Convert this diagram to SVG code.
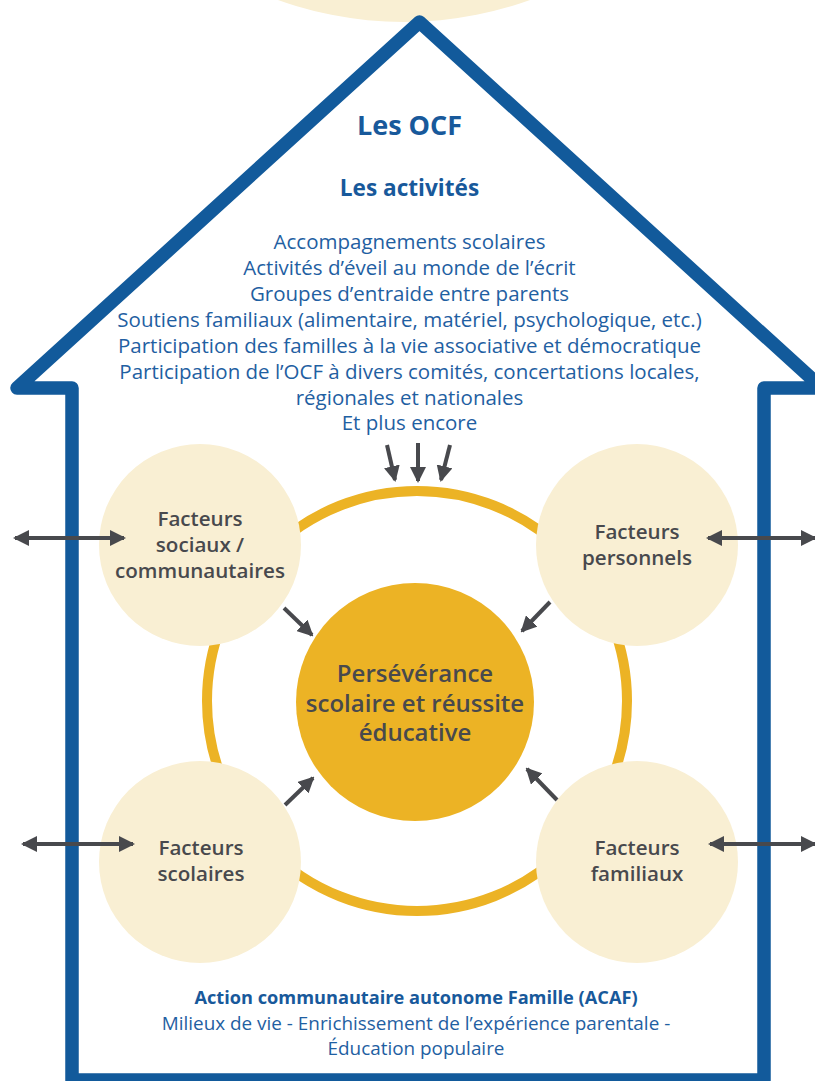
<svg xmlns="http://www.w3.org/2000/svg" width="815" height="1081" viewBox="0 0 815 1081">
  <defs>
    <style>
      .beige { fill: #f9efd3; }
      .wall { fill: none; stroke: #125a9b; stroke-width: 13.5; stroke-linejoin: round; stroke-linecap: round; }
      .ring { fill: none; stroke: #ecb325; stroke-width: 10; }
      .core { fill: #ecb325; }
      .title { font-family: "Open Sans", "Noto Sans", sans-serif; font-weight: 700; fill: #18599b; text-anchor: middle; }
      .blue { font-family: "Open Sans", "Noto Sans", sans-serif; font-weight: 400; fill: #1f60a2; text-anchor: middle; }
      .act { font-size: 20.5px; }
      .factor { font-family: "Open Sans", "Noto Sans", sans-serif; font-weight: 600; font-size: 20.6px; fill: #48494d; text-anchor: middle; }
      .core-label { font-family: "Open Sans", "Noto Sans", sans-serif; font-weight: 600; font-size: 24px; fill: #48494d; text-anchor: middle; }
      .arrow { fill: none; stroke: #48494d; stroke-width: 4; }
    </style>
    <marker id="head" viewBox="0 0 16 16" refX="14" refY="8" markerWidth="16" markerHeight="16" markerUnits="userSpaceOnUse" orient="auto-start-reverse">
      <path d="M0 0 L16 8 L0 16 Z" fill="#48494d"/>
    </marker>
  </defs>

  <!-- roof cap -->
  <circle id="roof-cap" class="beige" cx="404" cy="-350" r="372"/>

  <!-- house outline -->
  <g id="house">
    <path class="wall" d="M419.5 22 L17 388 L72 388 L72 1080 L764 1080 L764 388 L822 388 Z"/>
  </g>

  <!-- header texts -->
  <g id="ocf-title">
    <text class="title" x="409.5" y="135" font-size="27">Les OCF</text>
  </g>
  <g id="activities">
    <text class="title" x="409.5" y="196" font-size="22.6">Les activités</text>
    <text class="blue act" x="409.5" y="249">Accompagnements scolaires</text>
    <text class="blue act" x="409.5" y="275">Activités d’éveil au monde de l’écrit</text>
    <text class="blue act" x="409.5" y="301">Groupes d’entraide entre parents</text>
    <text class="blue act" x="409.5" y="327">Soutiens familiaux (alimentaire, matériel, psychologique, etc.)</text>
    <text class="blue act" x="409.5" y="353">Participation des familles à la vie associative et démocratique</text>
    <text class="blue act" x="409.5" y="378.5">Participation de l’OCF à divers comités, concertations locales,</text>
    <text class="blue act" x="409.5" y="404.5">régionales et nationales</text>
    <text class="blue act" x="409.5" y="430">Et plus encore</text>
  </g>

  <!-- ring around the core -->
  <g id="ring">
    <circle class="ring" cx="417" cy="701" r="210"/>
  </g>

  <!-- factor nodes -->
  <g id="factor-social">
    <circle class="beige" cx="200" cy="545" r="101"/>
    <text class="factor" x="200" y="526">Facteurs</text>
    <text class="factor" x="200" y="552">sociaux /</text>
    <text class="factor" x="200" y="578">communautaires</text>
  </g>
  <g id="factor-personal">
    <circle class="beige" cx="637" cy="545" r="101"/>
    <text class="factor" x="637" y="539">Facteurs</text>
    <text class="factor" x="637" y="565">personnels</text>
  </g>
  <g id="factor-school">
    <circle class="beige" cx="200" cy="862" r="101"/>
    <text class="factor" x="201" y="855">Facteurs</text>
    <text class="factor" x="201" y="881">scolaires</text>
  </g>
  <g id="factor-family">
    <circle class="beige" cx="637" cy="862" r="101"/>
    <text class="factor" x="637" y="855">Facteurs</text>
    <text class="factor" x="637" y="881">familiaux</text>
  </g>

  <!-- core node -->
  <g id="core">
    <circle class="core" cx="415" cy="702" r="119"/>
    <text class="core-label" x="415" y="682">Persévérance</text>
    <text class="core-label" x="415" y="712">scolaire et réussite</text>
    <text class="core-label" x="415" y="741">éducative</text>
  </g>

  <!-- connectors -->
  <g id="connectors">
    <line class="arrow" x1="387" y1="445" x2="395" y2="480" marker-end="url(#head)"/>
    <line class="arrow" x1="418" y1="443" x2="418" y2="481" marker-end="url(#head)"/>
    <line class="arrow" x1="450" y1="445" x2="441" y2="480" marker-end="url(#head)"/>

    <line class="arrow" x1="284" y1="608" x2="312" y2="635" marker-end="url(#head)"/>
    <line class="arrow" x1="550" y1="602" x2="522" y2="631" marker-end="url(#head)"/>
    <line class="arrow" x1="285" y1="805" x2="313" y2="778" marker-end="url(#head)"/>
    <line class="arrow" x1="557" y1="800" x2="527" y2="769" marker-end="url(#head)"/>

    <line class="arrow" x1="15" y1="538" x2="124" y2="538" marker-start="url(#head)" marker-end="url(#head)"/>
    <line class="arrow" x1="708" y1="538" x2="815" y2="538" marker-start="url(#head)" marker-end="url(#head)"/>
    <line class="arrow" x1="23" y1="844" x2="133" y2="844" marker-start="url(#head)" marker-end="url(#head)"/>
    <line class="arrow" x1="710" y1="844" x2="815" y2="844" marker-start="url(#head)" marker-end="url(#head)"/>
  </g>

  <!-- footer -->
  <g id="footer">
    <text class="title" x="416" y="1004" font-size="18.2">Action communautaire autonome Famille (ACAF)</text>
    <text class="blue" x="416" y="1030" font-size="18.9">Milieux de vie - Enrichissement de l’expérience parentale -</text>
    <text class="blue" x="416" y="1055" font-size="18.9">Éducation populaire</text>
  </g>
</svg>
